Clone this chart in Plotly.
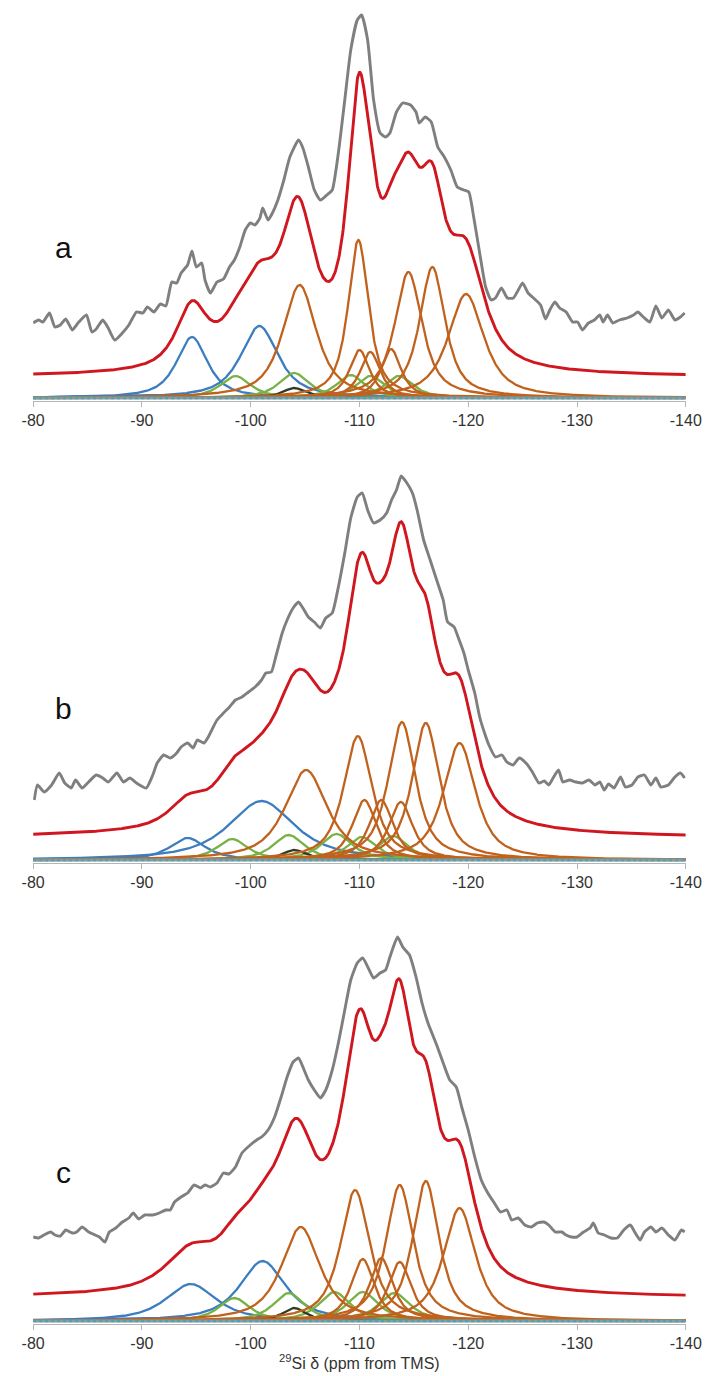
import numpy as np
import plotly.graph_objects as go

# ---- axis ticks and panel names ----
TICK_VALUES = [-80, -90, -100, -110, -120, -130, -140]
TICK_LABELS = ["-80", "-90", "-100", "-110", "-120", "-130", "-140"]
PANEL_LABELS = ["a", "b", "c"]

# ---- measured 29Si spectra (shift in ppm, intensity in a.u.) ----
a_shift = [-80, -80.5, -80.9, -81.5, -82, -82.5, -83, -83.6, -84.2, -84.9, -85.4, -85.8, -86.4, -86.9,
           -87.5, -88.2, -88.8, -89.5, -90.1, -90.5, -91.1, -91.7, -92.2, -92.75, -93.2, -93.6, -94.2,
           -94.6, -95.0, -95.5, -95.8, -96.3, -96.9, -97.5, -98.05, -98.5, -99.0, -99.5, -99.96, -100.4,
           -100.85, -101.1, -101.6, -102.0, -102.5, -103.05, -103.6, -104.4, -104.8, -105.3, -105.85,
           -106.4, -107.0, -107.5, -108.06, -108.65, -109.2, -109.8, -110.2, -110.75, -111.3, -111.9,
           -112.4, -112.8, -113.4, -113.98, -114.7, -115.2, -115.5, -116.05, -116.6, -117.2, -117.8,
           -118.4, -118.99, -119.6, -120.05, -120.5, -121.05, -121.6, -122.1, -122.5, -123.05, -123.6,
           -124.15, -124.6, -125.0, -125.5, -126.0, -126.65, -127.1, -127.5, -127.97, -128.4, -129.0,
           -129.6, -130.05, -130.5, -131.05, -131.6, -132.1, -132.4, -132.8, -133.3, -133.9, -134.6,
           -135.2, -135.6, -136.1, -136.7, -137.25, -137.8, -138.4, -139.0, -139.5, -139.9]
a_intensity = [75, 78, 76, 85, 71, 73, 79, 68, 76, 83, 66, 69, 78, 70,
               58, 65, 73, 86, 85, 91, 86, 94, 92, 116, 115, 125, 133,
               147, 131, 135, 118, 105, 116, 119, 131, 138, 151, 168, 175, 173,
               180, 190, 178, 185, 198, 218, 241, 258, 250, 231, 208,
               198, 203, 208, 245, 298, 348, 378, 383, 358, 298, 265,
               261, 265, 286, 295, 293, 286, 275, 281, 276, 251, 241,
               228, 211, 208, 206, 181, 145, 111, 98, 100, 110, 100,
               100, 108, 115, 105, 100, 93, 79, 88, 96, 90, 86,
               76, 76, 68, 75, 78, 83, 76, 83, 75, 78, 80,
               83, 86, 81, 76, 92, 80, 88, 78, 81, 85]

b_shift = [-80.1, -80.4, -81.0, -81.7, -82.4, -82.9, -83.5, -83.9, -84.5, -85.1, -85.8, -86.4, -86.9,
           -87.7, -88.3, -88.9, -89.5, -90.4, -91.0, -91.4, -92.0, -92.6, -93.2, -93.6, -94.2, -94.7,
           -95.1, -95.7, -96.1, -96.9, -97.5, -98.05, -98.6, -99.2, -99.8, -100.4, -101.0, -101.4,
           -101.9, -102.3, -102.9, -103.35, -103.9, -104.4, -104.8, -105.3, -105.85, -106.4, -106.9,
           -107.5, -108.06, -108.65, -109.2, -109.8, -110.25, -110.75, -111.3, -111.9, -112.5, -112.95,
           -113.4, -113.84, -114.3, -114.87, -115.3, -115.9, -116.5, -117.1, -117.7, -118.1, -118.7,
           -119.1, -119.6, -120.0, -120.6, -121.05, -121.5, -121.9, -122.5, -123.1, -123.55, -124.1,
           -124.7, -125.3, -125.9, -126.5, -127.0, -127.4, -127.8, -128.3, -128.7, -129.3, -129.9,
           -130.5, -131.1, -131.65, -132.1, -132.5, -132.9, -133.4, -134.0, -134.45, -135.05, -135.6,
           -136.2, -136.8, -137.25, -137.7, -138.4, -139.0, -139.5, -139.9]
b_intensity = [60, 75, 68, 75, 87, 77, 72, 80, 72, 78, 85, 82, 78,
               87, 78, 82, 77, 72, 85, 97, 105, 102, 107, 113, 117, 112,
               120, 117, 123, 140, 147, 153, 160, 163, 168, 173, 180, 187,
               188, 203, 227, 240, 252, 258, 252, 243, 238, 232, 242,
               247, 273, 307, 342, 363, 367, 350, 337, 340, 347, 360,
               370, 384, 378, 367, 350, 320, 300, 280, 260, 238, 233,
               222, 207, 190, 167, 143, 127, 115, 103, 105, 98, 95,
               102, 97, 88, 77, 79, 75, 82, 90, 78, 80, 78,
               77, 80, 75, 78, 70, 76, 72, 83, 73, 75, 83,
               85, 75, 82, 73, 75, 83, 87, 82]

c_shift = [-80, -80.5, -81.0, -81.6, -82.0, -82.5, -83.0, -83.6, -84.0, -84.5, -85.1, -85.7, -86.1,
           -86.6, -87.0, -87.6, -88.2, -88.8, -89.2, -89.7, -90.25, -91.0, -91.6, -92.2, -92.6, -93.0,
           -93.6, -94.2, -94.8, -95.4, -95.8, -96.3, -96.9, -97.5, -98.0, -98.6, -99.2, -99.96, -100.55,
           -101.0, -101.6, -102.2, -102.8, -103.35, -103.9, -104.4, -104.8, -105.3, -105.85, -106.4,
           -106.9, -107.5, -108.06, -108.65, -109.2, -109.8, -110.3, -110.9, -111.3, -111.9, -112.4,
           -112.8, -113.5, -113.98, -114.6, -115.2, -115.75, -116.3, -117.1, -117.7, -118.3, -118.9,
           -119.4, -120.0, -120.6, -121.2, -121.8, -122.4, -122.97, -123.55, -124.0, -124.6, -125.2,
           -125.8, -126.35, -126.95, -127.4, -128.0, -128.6, -129.0, -129.5, -130.0, -130.6, -131.2,
           -131.5, -131.95, -132.5, -133.1, -133.7, -134.3, -134.9, -135.3, -135.8, -136.2, -136.8,
           -137.25, -137.8, -138.4, -139.0, -139.6, -139.9]
c_intensity = [84, 83, 86, 89, 86, 85, 91, 88, 89, 94, 89, 86, 84,
               79, 89, 93, 99, 103, 108, 102, 106, 106, 108, 111, 111, 119,
               124, 128, 136, 133, 136, 134, 138, 148, 147, 154, 168, 176, 181,
               184, 191, 204, 224, 244, 259, 263, 254, 241, 231, 223,
               231, 251, 278, 311, 341, 358, 363, 351, 343, 348, 351,
               364, 384, 374, 366, 344, 318, 298, 276, 258, 241, 234,
               214, 191, 164, 141, 128, 118, 109, 111, 101, 103, 96,
               94, 98, 99, 96, 89, 89, 86, 84, 84, 89, 93,
               98, 88, 86, 83, 83, 91, 96, 89, 81, 89, 94,
               89, 93, 86, 81, 91, 89]

# ---- fitted components: centre (ppm), height (a.u.), FWHM (ppm) ----
a_blue_center = [-94.6, -100.8]
a_blue_height = [61, 72]
a_blue_width = [3.4, 4.1]
a_green_center = [-98.6, -104.0, -109.2, -111.0, -113.6]
a_green_height = [22, 25, 23, 22, 22]
a_green_width = [3.3, 3.3, 3.1, 3.1, 3.1]
a_dark_center = [-104.0]
a_dark_height = [10]
a_dark_width = [2.6]
a_orange_center = [-104.5, -109.9, -110.0, -111.0, -112.9, -114.5, -116.7, -119.8]
a_orange_height = [113, 158, 48, 46, 49, 126, 131, 104]
a_orange_width = [3.7, 2.25, 2.2, 2.2, 2.2, 3.0, 2.8, 3.9]

b_blue_center = [-94.2, -101.0]
b_blue_height = [22, 59]
b_blue_width = [3.9, 7.2]
b_green_center = [-98.3, -103.5, -107.9, -110.2, -113.1]
b_green_height = [21, 25, 26, 23, 24]
b_green_width = [3.4, 3.4, 3.4, 3.2, 3.2]
b_dark_center = [-104.0]
b_dark_height = [10]
b_dark_width = [2.6]
b_orange_center = [-105.1, -109.85, -110.45, -112.0, -113.8, -113.9, -116.1, -119.2]
b_orange_height = [90, 124, 60, 60, 58, 138, 137, 117]
b_orange_width = [4.6, 3.1, 2.6, 2.6, 2.6, 3.0, 3.0, 3.5]

c_blue_center = [-94.5, -101.1]
c_blue_height = [37, 60]
c_blue_width = [5.5, 5.0]
c_green_center = [-98.5, -103.5, -107.7, -110.3, -113.2]
c_green_height = [23, 28, 29, 29, 28]
c_green_width = [3.4, 3.4, 3.4, 3.4, 3.4]
c_dark_center = [-104.0]
c_dark_height = [13]
c_dark_width = [2.6]
c_orange_center = [-104.6, -109.6, -110.3, -112.0, -113.7, -113.7, -116.1, -119.2]
c_orange_height = [94, 131, 62, 63, 59, 136, 140, 113]
c_orange_width = [4.2, 3.2, 2.5, 2.5, 2.5, 3.0, 2.9, 3.5]

# vertical offset of the fitted envelope and Lorentzian fraction of each line
FIT_OFFSET = [21, 22, 23]
LORENTZ_FRACTION = 0.8

GRAY = "#7f7f7f"
RED = "#d0161e"
BLUE = "#3c7dc0"
ORANGE = "#c0621d"
GREEN = "#78b145"
DARK = "#2f3b22"
TEAL = "#4aa3bb"

grid = np.linspace(-80, -140, 1201)


def pseudo_voigt(x, c, h, w, eta=LORENTZ_FRACTION):
    d = (x - c) / (w / 2.0)
    return h * (eta / (1.0 + d ** 2) + (1.0 - eta) * np.exp(-np.log(2.0) * d ** 2))


panels = [
    dict(shift=a_shift, inten=a_intensity,
         groups=[(a_blue_center, a_blue_height, a_blue_width, BLUE),
                 (a_green_center, a_green_height, a_green_width, GREEN),
                 (a_dark_center, a_dark_height, a_dark_width, DARK),
                 (a_orange_center, a_orange_height, a_orange_width, ORANGE)]),
    dict(shift=b_shift, inten=b_intensity,
         groups=[(b_blue_center, b_blue_height, b_blue_width, BLUE),
                 (b_green_center, b_green_height, b_green_width, GREEN),
                 (b_dark_center, b_dark_height, b_dark_width, DARK),
                 (b_orange_center, b_orange_height, b_orange_width, ORANGE)]),
    dict(shift=c_shift, inten=c_intensity,
         groups=[(c_blue_center, c_blue_height, c_blue_width, BLUE),
                 (c_green_center, c_green_height, c_green_width, GREEN),
                 (c_dark_center, c_dark_height, c_dark_width, DARK),
                 (c_orange_center, c_orange_height, c_orange_width, ORANGE)]),
]

FIG_W, FIG_H = 721, 1376
# pixel rows of each panel: (top, bottom); baseline sits 3 px above bottom
panel_rows = [(5, 401), (470, 863), (930, 1324)]
label_rows = [248, 708, 1172]

fig = go.Figure()

for i, p in enumerate(panels):
    xa = "x" if i == 0 else f"x{i + 1}"
    ya = "y" if i == 0 else f"y{i + 1}"
    total = np.full_like(grid, float(FIT_OFFSET[i]))
    for centers, heights, widths, color in p["groups"]:
        for c, h, w in zip(centers, heights, widths):
            comp = pseudo_voigt(grid, c, h, w)
            total += comp
            fig.add_trace(go.Scatter(x=grid, y=comp, mode="lines", xaxis=xa, yaxis=ya,
                                     line=dict(color=color, width=2.3), hoverinfo="skip"))
    fig.add_trace(go.Scatter(x=grid, y=total, mode="lines", xaxis=xa, yaxis=ya,
                             line=dict(color=RED, width=2.9), hoverinfo="skip"))
    fig.add_trace(go.Scatter(x=p["shift"], y=p["inten"], mode="lines", xaxis=xa, yaxis=ya,
                             line=dict(color=GRAY, width=2.9, shape="spline", smoothing=0.5),
                             hoverinfo="skip"))
    # zero line of the deconvolution
    fig.add_trace(go.Scatter(x=[-80, -140], y=[0, 0], mode="lines", xaxis=xa, yaxis=ya,
                             line=dict(color="#8a9c9c", width=3), hoverinfo="skip"))
    fig.add_trace(go.Scatter(x=[-80, -140], y=[0, 0], mode="lines", xaxis=xa, yaxis=ya,
                             line=dict(color=TEAL, width=2.6, dash="dot"), hoverinfo="skip"))

    top, bottom = panel_rows[i]
    dom = [1 - bottom / FIG_H, 1 - top / FIG_H]
    key = "" if i == 0 else str(i + 1)
    fig.layout["xaxis" + key] = dict(
        domain=[22 / FIG_W, 701 / FIG_W], range=[-80, -140], anchor=ya,
        tickmode="array", tickvals=TICK_VALUES, ticktext=TICK_LABELS,
        showgrid=False, zeroline=False, showline=True, linecolor="#b5b5b5", linewidth=1,
        ticks="outside", ticklen=5, tickcolor="#b5b5b5",
        tickfont=dict(family="Liberation Sans, Arial, sans-serif", size=16, color="#333333"))
    fig.layout["yaxis" + key] = dict(
        domain=dom, range=[-3, (bottom - top) - 3], anchor=xa,
        visible=False, showgrid=False, zeroline=False)
    fig.add_annotation(text=PANEL_LABELS[i], xref="paper", yref="paper",
                       x=54 / FIG_W, y=1 - label_rows[i] / FIG_H, showarrow=False,
                       xanchor="center", yanchor="middle",
                       font=dict(family="Liberation Sans, Arial, sans-serif", size=30, color="#111111"))

fig.add_annotation(text="<sup>29</sup>Si δ (ppm from TMS)", xref="paper", yref="paper",
                   x=362 / FIG_W, y=1 - 1362 / FIG_H, showarrow=False,
                   xanchor="center", yanchor="middle",
                   font=dict(family="Liberation Sans, Arial, sans-serif", size=16, color="#333333"))

fig.update_layout(width=FIG_W, height=FIG_H, margin=dict(l=0, r=0, t=0, b=0),
                  paper_bgcolor="white", plot_bgcolor="white", showlegend=False)

fig.write_html("out.html")
